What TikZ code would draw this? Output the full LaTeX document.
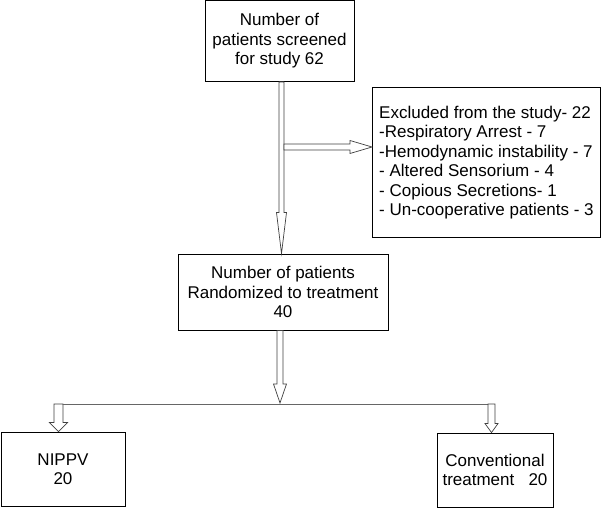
\documentclass[tikz,border=0pt]{standalone}
\usepackage{fontspec}
\setmainfont{Liberation Sans}
\usetikzlibrary{calc}
\tikzset{
  box/.style={draw=black, line width=0.9pt, fill=white, inner sep=0pt, align=center,
    font=\fontsize{17}{19.5}\selectfont},
  vdown/.style n args={3}{to path={let \p1=(\tikztostart),\p2=(\tikztotarget) in
    (\x1-#1,\y1) -- (\x1-#1,\y2+#3) -- (\x1-#2,\y2+#3) -- (\x1,\y2) -- (\x1+#2,\y2+#3)
    -- (\x1+#1,\y2+#3) -- (\x1+#1,\y1) -- cycle}},
  hright/.style n args={3}{to path={let \p1=(\tikztostart),\p2=(\tikztotarget) in
    (\x1,\y1+#1) -- (\x2-#3,\y1+#1) -- (\x2-#3,\y1+#2) -- (\x2,\y1) -- (\x2-#3,\y1-#2)
    -- (\x2-#3,\y1-#1) -- (\x1,\y1-#1) -- cycle}},
  blk/.style={draw=black!75, line width=0.7pt, fill=white, line join=miter},
  split/.style={draw=black!60, line width=1pt}
}
\begin{document}
\begin{tikzpicture}[x=1pt,y=-1pt]
\useasboundingbox (0,0) rectangle (603,508);

\node[box, minimum width=149pt, minimum height=81pt] (b1) at (279.5,41) {Number of\\patients screened\\for study 62};
\node[box, minimum width=210pt, minimum height=76pt] (b2) at (283,292) {Number of patients\\Randomized to treatment\\40};
\node[box, anchor=north west, align=left, minimum width=228pt, minimum height=150pt] (b3) at (372,87)
  {Excluded from the study- 22\\-Respiratory Arrest - 7\\-Hemodynamic instability - 7\\- Altered Sensorium - 4\\- Copious Secretions- 1\\- Un-cooperative patients - 3};
\node[box, minimum width=124pt, minimum height=74pt] (n1) at (63,469) {NIPPV\\20};
\node[box, minimum width=116pt, minimum height=74pt] (n2) at (495,470) {Conventional\\treatment~~ 20};

\coordinate (a1s) at ([xshift=2pt]b1.south);
\coordinate (hs) at (284,147);
\coordinate (a2s) at ([xshift=-3pt]b2.south);
\coordinate (j) at (280.5,403);
\coordinate (sl) at (58.5,404);
\coordinate (sr) at (491.5,404);

\draw[split] (sl) -- (sr);
\path[blk] (a1s) to[vdown={2.5pt}{5pt}{41pt}] (b2.north);
\path[blk] (hs) to[hright={3pt}{6.5pt}{22pt}] (b3.west);
\path[blk] (a2s) to[vdown={3pt}{6.5pt}{19pt}] (j);
\path[blk] (sl) to[vdown={4.5pt}{9pt}{9pt}] (n1.north);
\path[blk] (sr) to[vdown={3.5pt}{6.5pt}{9pt}] (n2.north);
\end{tikzpicture}
\end{document}
